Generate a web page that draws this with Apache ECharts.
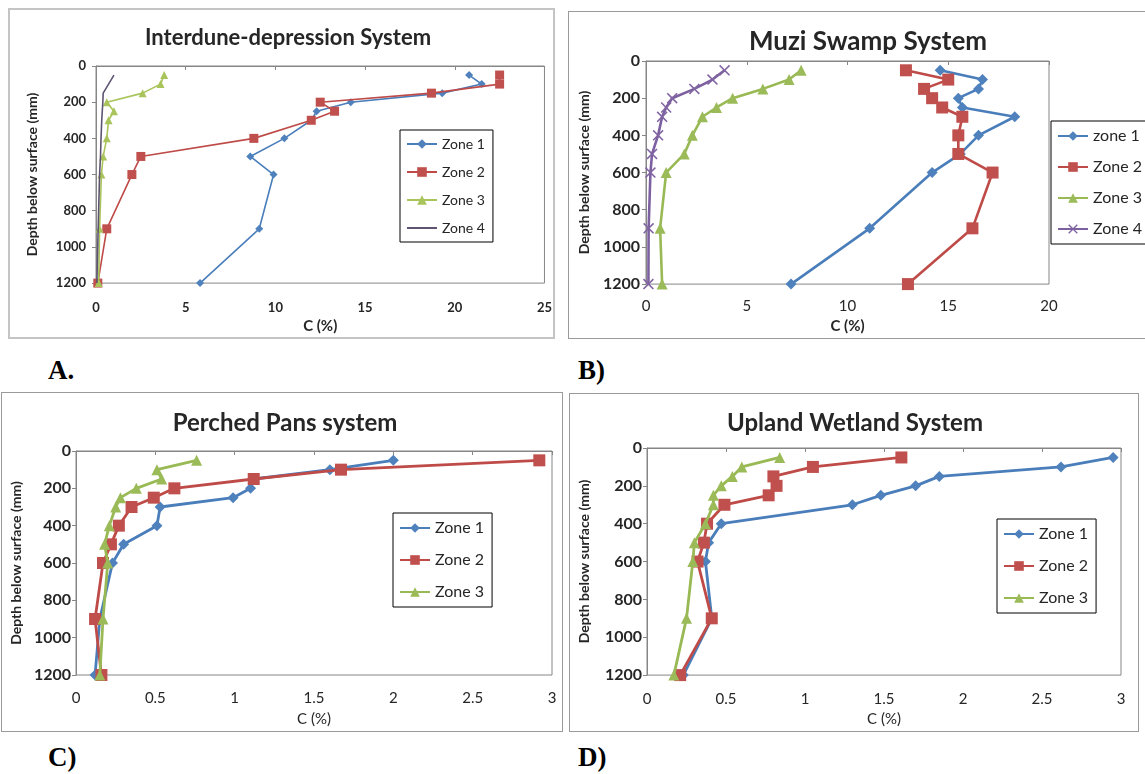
<!DOCTYPE html>
<html>
<head>
<meta charset="utf-8">
<script src="https://cdn.jsdelivr.net/npm/echarts@6/dist/echarts.min.js"></script>
<style>
  html, body { margin: 0; padding: 0; background: #fff; }
  body { width: 1145px; height: 774px; position: relative; overflow: hidden; }
  .panel { position: absolute; }
  .frame { position: absolute; box-sizing: border-box; border: 1px solid #9a9a9a; pointer-events: none; }
  .tag { position: absolute; font-family: "Liberation Serif", "DejaVu Serif", serif; font-weight: bold; font-size: 27px; color: #000; line-height: 1; }
</style>
</head>
<body>
<div class="panel" id="pA" style="left:8px;top:8px;width:547px;height:331px;filter:blur(0.6px);"></div>
<div class="frame" style="left:8px;top:8px;width:547px;height:331px;border:2px solid #c4c4c4;"></div>
<div class="panel" id="pB" style="left:568px;top:11px;width:577px;height:328px;"></div>
<div class="frame" style="left:568px;top:11px;width:580px;height:328px;"></div>
<div class="panel" id="pC" style="left:1px;top:392px;width:562px;height:340px;"></div>
<div class="frame" style="left:1px;top:392px;width:562px;height:340px;"></div>
<div class="panel" id="pD" style="left:569px;top:393px;width:570px;height:339px;"></div>
<div class="frame" style="left:569px;top:393px;width:570px;height:339px;"></div>
<div class="tag" style="left:48px;top:357px;">A.</div>
<div class="tag" style="left:578px;top:357px;">B)</div>
<div class="tag" style="left:48px;top:744px;">C)</div>
<div class="tag" style="left:578px;top:744px;">D)</div>
<script>
// Sampling depths (mm below surface), shared by every profile
const depths = [50, 100, 150, 200, 250, 300, 400, 500, 600, 900, 1200];
const depthTicks = [0, 1200, 200]; // min, max, step

// Interdune-depression System, C (%)
const interZone1 = [20.8, 21.5, 19.3, 14.2, 12.3, 12.0, 10.5, 8.6, 9.9, 9.1, 5.8];
const interZone2 = [22.5, 22.5, 18.7, 12.5, 13.3, 12.0, 8.8, 2.5, 2.0, 0.6, 0.1];
const interZone3 = [3.8, 3.6, 2.6, 0.6, 1.0, 0.7, 0.6, 0.4, 0.3, 0.2, 0.15];
const interZone4 = [1.0, 0.7, 0.4, 0.38, 0.35, 0.32, 0.28, 0.25, 0.2, 0.12, 0.05];
const interTicks = [0, 25, 5];

// Muzi Swamp System, C (%)
const muziZone1 = [14.6, 16.7, 16.5, 15.5, 15.7, 18.3, 16.5, 15.6, 14.2, 11.1, 7.2];
const muziZone2 = [12.9, 15.0, 13.8, 14.2, 14.7, 15.7, 15.5, 15.5, 17.2, 16.2, 13.0];
const muziZone3 = [7.7, 7.1, 5.8, 4.3, 3.5, 2.8, 2.3, 1.9, 1.0, 0.7, 0.8];
const muziZone4 = [3.9, 3.3, 2.4, 1.3, 1.0, 0.8, 0.6, 0.3, 0.22, 0.13, 0.12];
const muziTicks = [0, 20, 5];

// Perched Pans system, C (%)
const pansZone1 = [2.0, 1.6, 1.12, 1.1, 0.99, 0.53, 0.51, 0.3, 0.23, 0.15, 0.12];
const pansZone2 = [2.92, 1.67, 1.12, 0.62, 0.49, 0.35, 0.27, 0.22, 0.17, 0.12, 0.16];
const pansZone3 = [0.76, 0.51, 0.54, 0.38, 0.28, 0.25, 0.21, 0.18, 0.2, 0.17, 0.15];
const pansTicks = [0, 3, 0.5];

// Upland Wetland System, C (%)
const uplandZone1 = [2.95, 2.62, 1.85, 1.70, 1.48, 1.30, 0.47, 0.39, 0.37, 0.41, 0.23];
const uplandZone2 = [1.61, 1.05, 0.8, 0.82, 0.77, 0.49, 0.38, 0.36, 0.32, 0.41, 0.21];
const uplandZone3 = [0.84, 0.6, 0.54, 0.47, 0.42, 0.42, 0.37, 0.3, 0.29, 0.25, 0.17];
const uplandTicks = [0, 3, 0.5];

const FONT = 'Lato, "Open Sans", sans-serif';
const CROSS = 'path://M0,1L1,0L5,4L9,0L10,1L6,5L10,9L9,10L5,6L1,10L0,9L4,5Z';
// plain line icon (tiny corner specks keep the 30x12 bounding box)
const LINE_ICON = 'path://M0,0L0.01,0L0,0.01Z M0,5.1H30V6.9H0Z M30,12L29.99,12L30,11.99Z';

const STYLE = {
  blue:   { line: '#4A7EBB', fill: '#4F81BD', symbol: 'diamond', k: 1.0 },
  red:    { line: '#BE4B48', fill: '#C0504D', symbol: 'rect', k: 1.1 },
  green:  { line: '#98B954', fill: '#9BBB59', symbol: 'triangle', k: 1.0 },
  purple: { line: '#7D60A0', fill: '#8064A2', symbol: CROSS, k: 1.0 }
};

const plainNumber = v => String(v);

function makePanel(id, p) {
  const chart = echarts.init(document.getElementById(id));
  const series = p.zones.map((z, i) => {
    const s = STYLE[z.style];
    return {
      name: z.name,
      type: 'line',
      data: depths.map((d, j) => [z.values[j], d]),
      symbol: z.noMarker ? 'none' : s.symbol,
      symbolSize: Math.round(p.marker * s.k),
      lineStyle: { color: z.lineColor || s.line, width: p.lineWidth },
      itemStyle: { color: z.lineColor || s.fill },
      z: 2 + i,
      animation: false
    };
  });
  chart.setOption({
    animation: false,
    grid: {
      left: p.grid[0], top: p.grid[1], width: p.grid[2], height: p.grid[3],
      show: true, borderColor: '#868686', borderWidth: 1, backgroundColor: '#fff'
    },
    xAxis: {
      type: 'value', min: p.xTicks[0], max: p.xTicks[1], interval: p.xTicks[2],
      name: 'C (%)', nameLocation: 'middle', nameGap: p.xNameGap,
      nameTextStyle: { fontFamily: FONT, fontSize: 15, fontWeight: p.xNameWeight, color: '#262626' },
      axisLine: { lineStyle: { color: '#868686' } },
      axisTick: { show: true, inside: false, length: 4, lineStyle: { color: '#868686' } },
      axisLabel: { fontFamily: FONT, fontSize: p.xLabelSize, fontWeight: p.xLabelWeight, color: '#262626',
                   margin: p.xLabelMargin, formatter: plainNumber },
      splitLine: { show: false }
    },
    yAxis: {
      type: 'value', inverse: true, min: depthTicks[0], max: depthTicks[1], interval: depthTicks[2],
      name: 'Depth below surface (mm)', nameLocation: 'middle', nameRotate: 90, nameGap: p.yNameGap,
      nameTextStyle: { fontFamily: FONT, fontSize: 14, fontWeight: 'bold', color: '#262626' },
      axisLine: { show: true, lineStyle: { color: '#868686' } },
      axisTick: { show: true, inside: false, length: 4, lineStyle: { color: '#868686' } },
      axisLabel: { fontFamily: FONT, fontSize: p.yLabelSize, fontWeight: 'bold', color: '#262626',
                   margin: p.yLabelMargin, formatter: plainNumber },
      splitLine: { show: false }
    },
    legend: {
      orient: 'vertical', left: p.legend[0], top: p.legend[1],
      data: p.zones.map(z => z.noMarker ? { name: z.name, icon: LINE_ICON } : z.name),
      borderColor: '#000', borderWidth: 1, padding: [7, 8, 7, 6],
      itemWidth: 30, itemHeight: 12, itemGap: p.legendGap,
      textStyle: { fontFamily: FONT, fontSize: p.legendSize, color: '#262626' },
      selectedMode: false
    },
    graphic: [{
      type: 'text', x: p.title[1], y: p.title[2],
      style: { text: p.title[0], align: 'center', verticalAlign: 'middle',
               fontFamily: FONT, fontSize: p.title[3], fontWeight: 'bold', fill: '#262626' }
    }],
    series: series
  });
}

makePanel('pA', {
  title: ['Interdune-depression System', 280, 30, 22],
  grid: [88, 58, 450, 221], xTicks: interTicks,
  xLabelSize: 13, xLabelWeight: 'bold', xLabelMargin: 18, xNameGap: 27, xNameWeight: 'bold',
  yLabelSize: 13, yLabelMargin: 10, yNameGap: 57,
  legend: [392, 122], legendGap: 14, legendSize: 14,
  lineWidth: 1.6, marker: 8,
  zones: [
    { name: 'Zone 1', style: 'blue', values: interZone1 },
    { name: 'Zone 2', style: 'red', values: interZone2 },
    { name: 'Zone 3', style: 'green', values: interZone3, lineColor: '#A9C45A' },
    { name: 'Zone 4', style: 'purple', values: interZone4, lineColor: '#5E5472', noMarker: true }
  ]
});

makePanel('pB', {
  title: ['Muzi Swamp System', 300, 31, 26],
  grid: [78, 50, 403, 231], xTicks: muziTicks,
  xLabelSize: 15, xLabelWeight: 'normal', xLabelMargin: 15, xNameGap: 30, xNameWeight: 'bold',
  yLabelSize: 16, yLabelMargin: 6, yNameGap: 55,
  legend: [483, 110], legendGap: 15, legendSize: 16,
  lineWidth: 2.6, marker: 10.5,
  zones: [
    { name: 'zone 1', style: 'blue', values: muziZone1 },
    { name: 'Zone 2', style: 'red', values: muziZone2 },
    { name: 'Zone 3', style: 'green', values: muziZone3 },
    { name: 'Zone 4', style: 'purple', values: muziZone4 }
  ]
});

makePanel('pC', {
  title: ['Perched Pans system', 284, 31, 24],
  grid: [73, 59, 478, 225], xTicks: pansTicks,
  xLabelSize: 15, xLabelWeight: 'normal', xLabelMargin: 16, xNameGap: 37, xNameWeight: 'normal',
  yLabelSize: 16, yLabelMargin: 5, yNameGap: 52,
  legend: [392, 121], legendGap: 16, legendSize: 16,
  lineWidth: 2.8, marker: 11,
  zones: [
    { name: 'Zone 1', style: 'blue', values: pansZone1 },
    { name: 'Zone 2', style: 'red', values: pansZone2 },
    { name: 'Zone 3', style: 'green', values: pansZone3 }
  ]
});

makePanel('pD', {
  title: ['Upland Wetland System', 286, 30, 24],
  grid: [74, 55, 478, 231], xTicks: uplandTicks,
  xLabelSize: 15, xLabelWeight: 'normal', xLabelMargin: 17, xNameGap: 32, xNameWeight: 'normal',
  yLabelSize: 16, yLabelMargin: 5, yNameGap: 56,
  legend: [428, 126], legendGap: 16, legendSize: 16,
  lineWidth: 2.8, marker: 11,
  zones: [
    { name: 'Zone 1', style: 'blue', values: uplandZone1 },
    { name: 'Zone 2', style: 'red', values: uplandZone2 },
    { name: 'Zone 3', style: 'green', values: uplandZone3 }
  ]
});
</script>
</body>
</html>
